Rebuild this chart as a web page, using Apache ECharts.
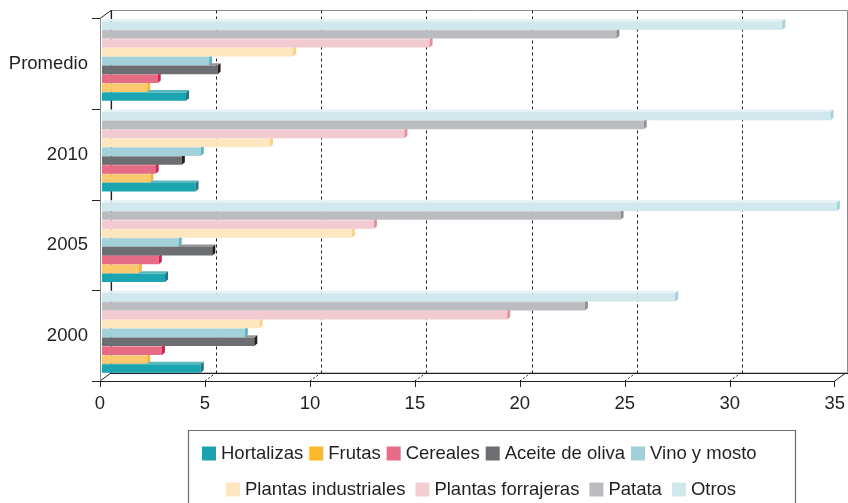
<!DOCTYPE html>
<html>
<head>
<meta charset="utf-8">
<script src="https://cdn.jsdelivr.net/npm/echarts@6/dist/echarts.min.js"></script>
<style>
  html, body { margin: 0; padding: 0; background: #fff; }
  #chart { width: 848px; height: 503px; }
</style>
</head>
<body>
<div id="chart"></div>
<script>
  // categorias (de abajo a arriba)
  var categorias = ['2000', '2005', '2010', 'Promedio'];
  var ticksX = [0, 5, 10, 15, 20, 25, 30, 35];

  var series_nombres = ['Hortalizas', 'Frutas', 'Cereales', 'Aceite de oliva', 'Vino y mosto',
    'Plantas industriales', 'Plantas forrajeras', 'Patata', 'Otros'];

  // valores por categoria: 2000, 2005, 2010, Promedio
  var hortalizas = [4.8, 3.1, 4.55, 4.1];
  var frutas = [2.25, 1.85, 2.4, 2.25];
  var cereales = [2.95, 2.8, 2.65, 2.75];
  var aceite = [7.35, 5.35, 3.9, 5.6];
  var vino = [6.9, 3.75, 4.8, 5.2];
  var industriales = [7.6, 12.0, 8.1, 9.2];
  var forrajeras = [19.4, 13.05, 14.5, 15.7];
  var patata = [23.1, 24.8, 25.9, 24.6];
  var otros = [27.4, 35.1, 34.8, 32.5];

  var valores = [hortalizas, frutas, cereales, aceite, vino, industriales, forrajeras, patata, otros];

  // [frente, cara superior, lateral, leyenda]
  var colores = [
    ['#1ba5b0', '#5bb8c0', '#117e87', '#1aa3ae'],
    ['#fdc96e', '#fed99a', '#fbb52a', '#fdb92c'],
    ['#e66c86', '#ee94a6', '#e0184f', '#e56b86'],
    ['#6d6e71', '#949598', '#231f20', '#6d6e71'],
    ['#a3d1d9', '#c3e2e7', '#5bb6c3', '#a1d0d9'],
    ['#fee6bf', '#fff0d8', '#fdd27c', '#fde5c0'],
    ['#f1cbd1', '#f7dfe2', '#e58f9c', '#f2cdd2'],
    ['#bbbcc0', '#d2d3d5', '#8f9093', '#bbbcc0'],
    ['#d0e7eb', '#e4f2f4', '#9fd2da', '#d0e8ec']
  ];

  var FONT = "'Liberation Sans', Arial, sans-serif";
  var TXT = '#231f20';

  // profundidad del efecto 3d
  var DX = 11, DY = 8;
  var G = {left: 100, top: 18.5, width: 736.5, height: 362.5};

  function renderBarra(idx) {
    var col = colores[idx];
    return function (params, api) {
      var v = api.value(0), c = api.value(1);
      var p0 = api.coord([0, c]);
      var p1 = api.coord([v, c]);
      var band = api.size([0, 1])[1];
      var h = 0.092 * band;
      var yc = p0[1] + (0.362 - idx * 0.098) * band;
      var y0 = yc - h / 2, y1 = yc + h / 2;
      var x0 = p0[0] + 2, x1 = p1[0];
      var dx = 3, dy = 2.5;
      return {
        type: 'group',
        children: [
          {type: 'polygon', shape: {points: [[x0, y0], [x0 + dx, y0 - dy], [x1 + dx, y0 - dy], [x1, y0]]},
            style: {fill: col[1]}},
          {type: 'rect', shape: {x: x0, y: y0, width: x1 - x0, height: h}, style: {fill: col[0]}},
          {type: 'polygon', shape: {points: [[x1, y0], [x1 + dx, y0 - dy], [x1 + dx, y1 - dy], [x1, y1]]},
            style: {fill: col[2]}}
        ]
      };
    };
  }

  var series = series_nombres.map(function (n, i) {
    return {
      name: n,
      type: 'custom',
      xAxisIndex: 0,
      yAxisIndex: 0,
      renderItem: renderBarra(i),
      itemStyle: {color: colores[i][3]},
      encode: {x: 0, y: 1},
      data: valores[i].map(function (v, k) { return [v, k]; }),
      z: 3
    };
  });

  var option = {
    animation: false,
    textStyle: {fontFamily: FONT, color: TXT},
    grid: [
      {left: G.left, top: G.top, width: G.width, height: G.height},
      {left: G.left + DX, top: G.top - DY, width: G.width, height: G.height,
        show: true, borderColor: '#8a8b8d', borderWidth: 1}
    ],
    xAxis: [
      {gridIndex: 0, type: 'value', min: 0, max: 35, interval: 5,
        axisLine: {show: true, lineStyle: {color: '#231f20', width: 1.2}},
        axisTick: {show: true, inside: false, length: 6, lineStyle: {color: '#231f20'}},
        axisLabel: {fontSize: 18.5, color: TXT, margin: 13, fontFamily: FONT},
        splitLine: {show: false}},
      {gridIndex: 1, type: 'value', min: 0, max: 35, interval: 5,
        axisLine: {show: true, lineStyle: {color: '#231f20', width: 1.2}},
        axisTick: {show: false}, axisLabel: {show: false},
        splitLine: {show: true, showMinLine: false, showMaxLine: false,
          lineStyle: {color: '#231f20', type: [3, 3], width: 1}}}
    ],
    yAxis: [
      {gridIndex: 0, type: 'category', data: categorias,
        axisLine: {show: true, lineStyle: {color: '#8a8b8d', width: 1}},
        axisTick: {show: true, length: 8, lineStyle: {color: '#231f20'}},
        axisLabel: {fontSize: 18.5, color: TXT, margin: 12, fontFamily: FONT}},
      {gridIndex: 1, type: 'category', data: categorias,
        axisLine: {show: true, lineStyle: {color: '#231f20', width: 1.2}},
        axisTick: {show: false}, axisLabel: {show: false}, splitLine: {show: false}}
    ],
    legend: [
      {data: series_nombres.slice(0, 5), left: 197, top: 439, itemWidth: 14, itemHeight: 14,
        itemGap: 6, icon: 'rect',
        textStyle: {fontSize: 18.5, color: TXT, fontFamily: FONT}},
      {data: series_nombres.slice(5), left: 221, top: 475, itemWidth: 14, itemHeight: 14,
        itemGap: 10, icon: 'rect',
        textStyle: {fontSize: 18.5, color: TXT, fontFamily: FONT}}
    ],
    series: series
  };

  var chart = echarts.init(document.getElementById('chart'));
  chart.setOption(option);

  // lineas de perspectiva (suelo y esquinas)
  var yFront = G.top + G.height, yBack = yFront - DY;
  var graficos = [];
  ticksX.forEach(function (t) {
    var x = chart.convertToPixel({xAxisIndex: 0}, t);
    var extremo = (t === 0 || t === 35);
    graficos.push({
      type: 'line', silent: true,
      shape: {x1: x, y1: yFront, x2: x + DX, y2: yBack},
      style: {stroke: '#231f20', lineWidth: 1, lineDash: extremo ? null : [2, 2]}
    });
  });
  var xl = chart.convertToPixel({xAxisIndex: 0}, 0);
  graficos.push({
    type: 'line', silent: true,
    shape: {x1: xl, y1: G.top, x2: xl + DX, y2: G.top - DY},
    style: {stroke: '#231f20', lineWidth: 1}
  });
  graficos.push({
    type: 'rect', silent: true,
    shape: {x: 188.5, y: 430.5, width: 607, height: 90},
    style: {fill: 'none', stroke: '#6d6e71', lineWidth: 1.2}
  });
  chart.setOption({graphic: graficos});
</script>
</body>
</html>
